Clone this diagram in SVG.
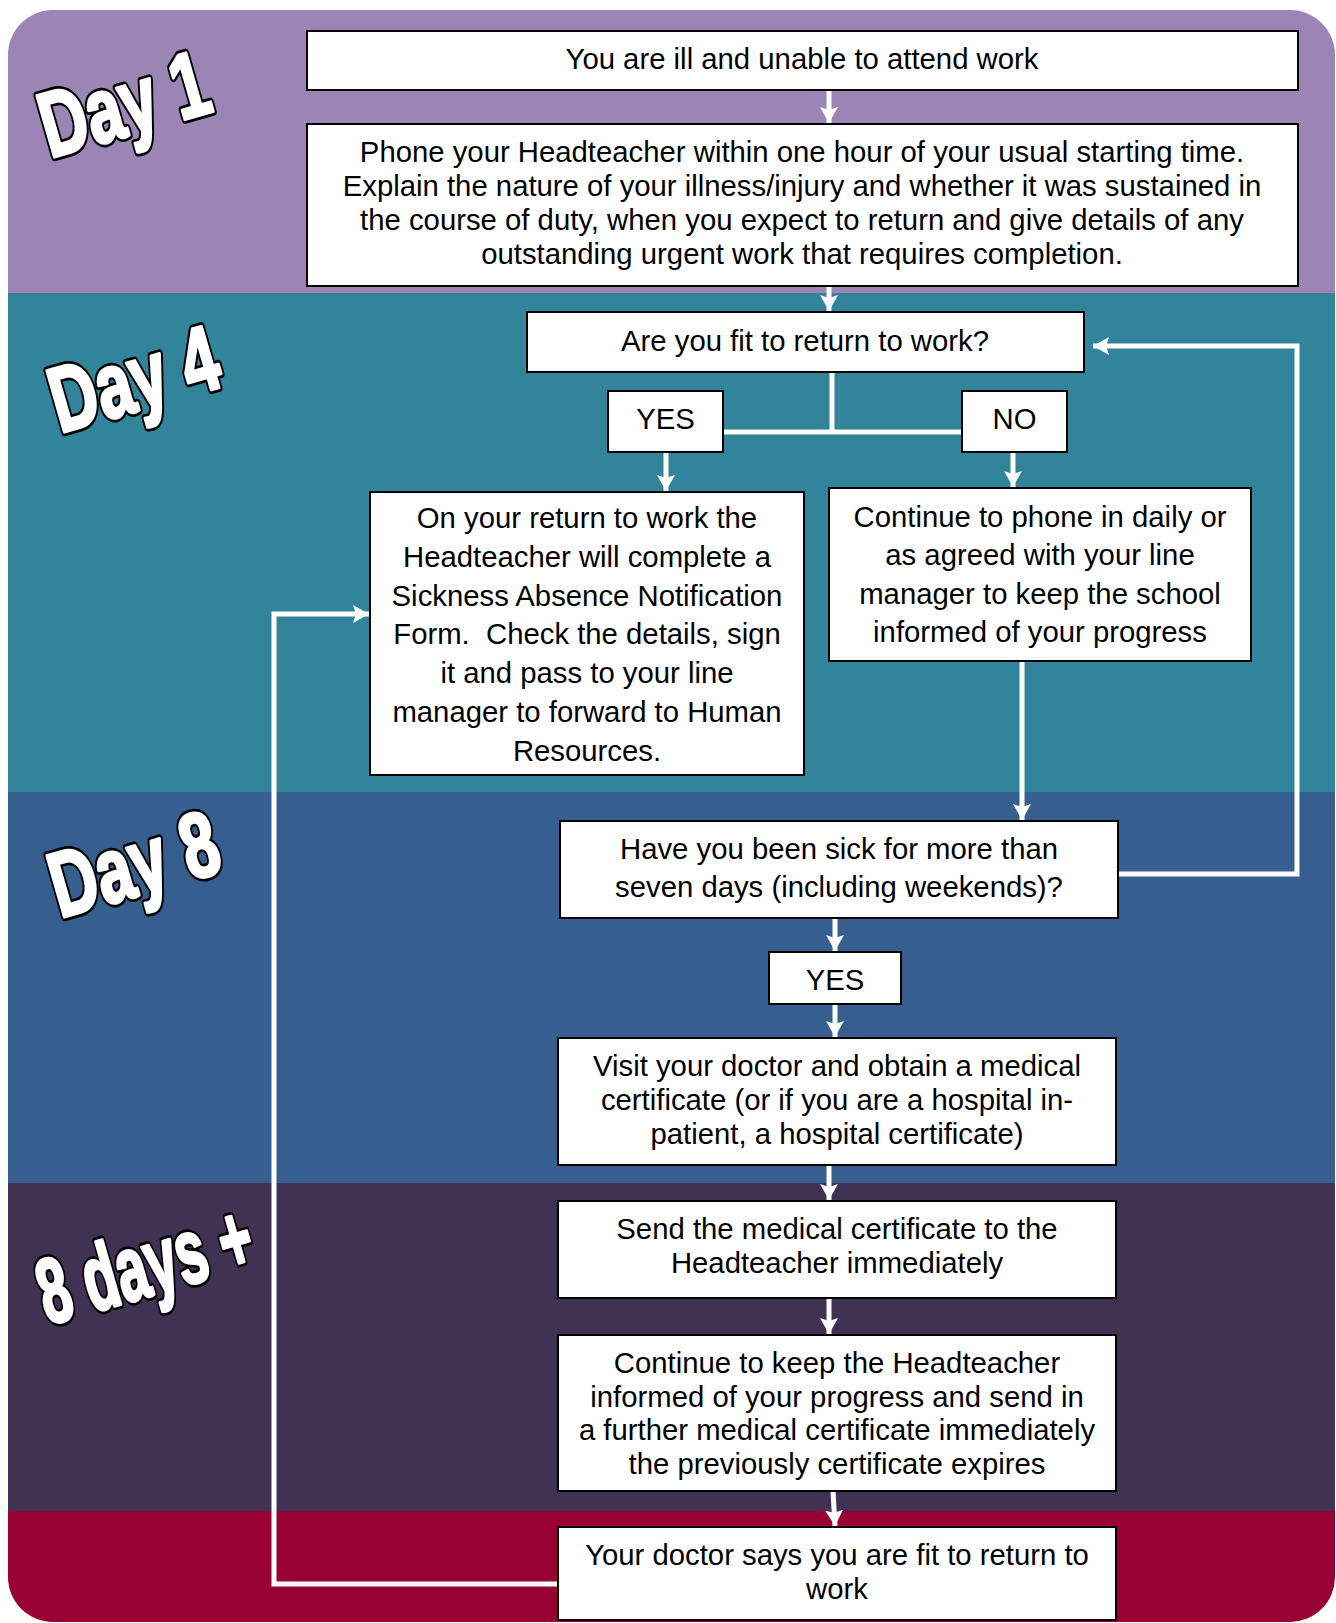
<svg xmlns="http://www.w3.org/2000/svg" width="1336" height="1623" viewBox="0 0 1336 1623">
<style>
.box{fill:#fff;stroke:#000;stroke-width:2}
.t{font-family:"Liberation Sans",Arial,sans-serif;font-size:29.3px;fill:#000;text-anchor:middle}
.day{font-family:"Liberation Sans",Arial,sans-serif;font-weight:bold;font-size:92px;stroke-linejoin:round}
.o{fill:#000;stroke:#000;stroke-width:9}
.w{fill:#fff;stroke:#fff;stroke-width:3.5}
.c{fill:none;stroke:#fff;stroke-width:5}
</style>
<defs>
<clipPath id="bg"><rect x="8" y="10" width="1327" height="1612" rx="45" ry="45"/></clipPath>
<marker id="ah" markerWidth="17" markerHeight="18" refX="16" refY="9" orient="auto" markerUnits="userSpaceOnUse"><path d="M0,0 L16,9 L0,18 L3,9 z" fill="#fff"/></marker>
<text id="d1" class="day" transform="translate(50,158) rotate(-16) scale(0.7,1)">Day 1</text>
<text id="d4" class="day" transform="translate(60,433) rotate(-16) scale(0.7,1)">Day 4</text>
<text id="d8" class="day" transform="translate(60,918) rotate(-16) scale(0.7,1)">Day 8</text>
<text id="d8p" class="day" transform="translate(48,1325) rotate(-16) scale(0.6,1)">8 days +</text>
</defs>
<rect width="1336" height="1623" fill="#fff"/>
<g id="bands" clip-path="url(#bg)">
<rect x="0" y="0" width="1336" height="293" fill="#9B85B5"/>
<rect x="0" y="293" width="1336" height="499" fill="#32849B"/>
<rect x="0" y="792" width="1336" height="391" fill="#365F8F"/>
<rect x="0" y="1183" width="1336" height="328" fill="#403252"/>
<rect x="0" y="1511" width="1336" height="112" fill="#990033"/>
</g>
<g id="labels">
<use href="#d1" class="o"/><use href="#d1" class="w"/>
<use href="#d4" class="o"/><use href="#d4" class="w"/>
<use href="#d8" class="o"/><use href="#d8" class="w"/>
<use href="#d8p" class="o"/><use href="#d8p" class="w"/>
</g>
<g id="connectors">
<line class="c" x1="829" y1="90" x2="829" y2="123" marker-end="url(#ah)"/>
<line class="c" x1="829" y1="286" x2="829" y2="311" marker-end="url(#ah)"/>
<polyline class="c" points="832,372 832,432"/>
<polyline class="c" points="723,432 962,432"/>
<line class="c" x1="666" y1="452" x2="666" y2="491" marker-end="url(#ah)"/>
<line class="c" x1="1013" y1="452" x2="1013" y2="487" marker-end="url(#ah)"/>
<line class="c" x1="1022" y1="661" x2="1022" y2="820" marker-end="url(#ah)"/>
<polyline class="c" points="1118,874 1297,874 1297,346 1093,346" marker-end="url(#ah)"/>
<line class="c" x1="835" y1="918" x2="835" y2="951" marker-end="url(#ah)"/>
<line class="c" x1="835" y1="1004" x2="835" y2="1037" marker-end="url(#ah)"/>
<line class="c" x1="829" y1="1165" x2="829" y2="1200" marker-end="url(#ah)"/>
<line class="c" x1="829" y1="1298" x2="829" y2="1334" marker-end="url(#ah)"/>
<line class="c" x1="833" y1="1491" x2="835" y2="1526" marker-end="url(#ah)"/>
<polyline class="c" points="558,1584 274,1584 274,614 369,614" marker-end="url(#ah)"/>
</g>
<g id="n1"><rect class="box" x="307" y="31" width="991" height="59"/>
<text class="t" x="802" y="69">You are ill and unable to attend work</text></g>
<g id="n2"><rect class="box" x="307" y="124" width="991" height="162"/>
<text class="t" x="802" y="162">Phone your Headteacher within one hour of your usual starting time.</text>
<text class="t" x="802" y="196">Explain the nature of your illness/injury and whether it was sustained in</text>
<text class="t" x="802" y="230">the course of duty, when you expect to return and give details of any</text>
<text class="t" x="802" y="264">outstanding urgent work that requires completion.</text></g>
<g id="n3"><rect class="box" x="527" y="312" width="557" height="60"/>
<text class="t" x="805" y="351">Are you fit to return to work?</text></g>
<g id="n4"><rect class="box" x="608" y="391" width="115" height="61"/>
<text class="t" x="665.5" y="429">YES</text></g>
<g id="n5"><rect class="box" x="962" y="391" width="105" height="61"/>
<text class="t" x="1014.5" y="429">NO</text></g>
<g id="n6"><rect class="box" x="370" y="492" width="434" height="283"/>
<text class="t" x="587" y="528">On your return to work the</text>
<text class="t" x="587" y="567">Headteacher will complete a</text>
<text class="t" x="587" y="606">Sickness Absence Notification</text>
<text class="t" x="587" y="644" xml:space="preserve">Form.  Check the details, sign</text>
<text class="t" x="587" y="683">it and pass to your line</text>
<text class="t" x="587" y="722">manager to forward to Human</text>
<text class="t" x="587" y="761">Resources.</text></g>
<g id="n7"><rect class="box" x="829" y="488" width="422" height="173"/>
<text class="t" x="1040" y="527">Continue to phone in daily or</text>
<text class="t" x="1040" y="565">as agreed with your line</text>
<text class="t" x="1040" y="604">manager to keep the school</text>
<text class="t" x="1040" y="642">informed of your progress</text></g>
<g id="n8"><rect class="box" x="560" y="821" width="558" height="97"/>
<text class="t" x="839" y="859">Have you been sick for more than</text>
<text class="t" x="839" y="897">seven days (including weekends)?</text></g>
<g id="n9"><rect class="box" x="769" y="952" width="132" height="52"/>
<text class="t" x="835" y="990">YES</text></g>
<g id="n10"><rect class="box" x="558" y="1038" width="558" height="127"/>
<text class="t" x="837" y="1076">Visit your doctor and obtain a medical</text>
<text class="t" x="837" y="1110">certificate (or if you are a hospital in-</text>
<text class="t" x="837" y="1144">patient, a hospital certificate)</text></g>
<g id="n11"><rect class="box" x="558" y="1201" width="558" height="97"/>
<text class="t" x="837" y="1239">Send the medical certificate to the</text>
<text class="t" x="837" y="1273">Headteacher immediately</text></g>
<g id="n12"><rect class="box" x="558" y="1335" width="558" height="156"/>
<text class="t" x="837" y="1373">Continue to keep the Headteacher</text>
<text class="t" x="837" y="1407">informed of your progress and send in</text>
<text class="t" x="837" y="1440">a further medical certificate immediately</text>
<text class="t" x="837" y="1474">the previously certificate expires</text></g>
<g id="n13"><rect class="box" x="558" y="1527" width="558" height="93"/>
<text class="t" x="837" y="1565">Your doctor says you are fit to return to</text>
<text class="t" x="837" y="1599">work</text></g>
</svg>
